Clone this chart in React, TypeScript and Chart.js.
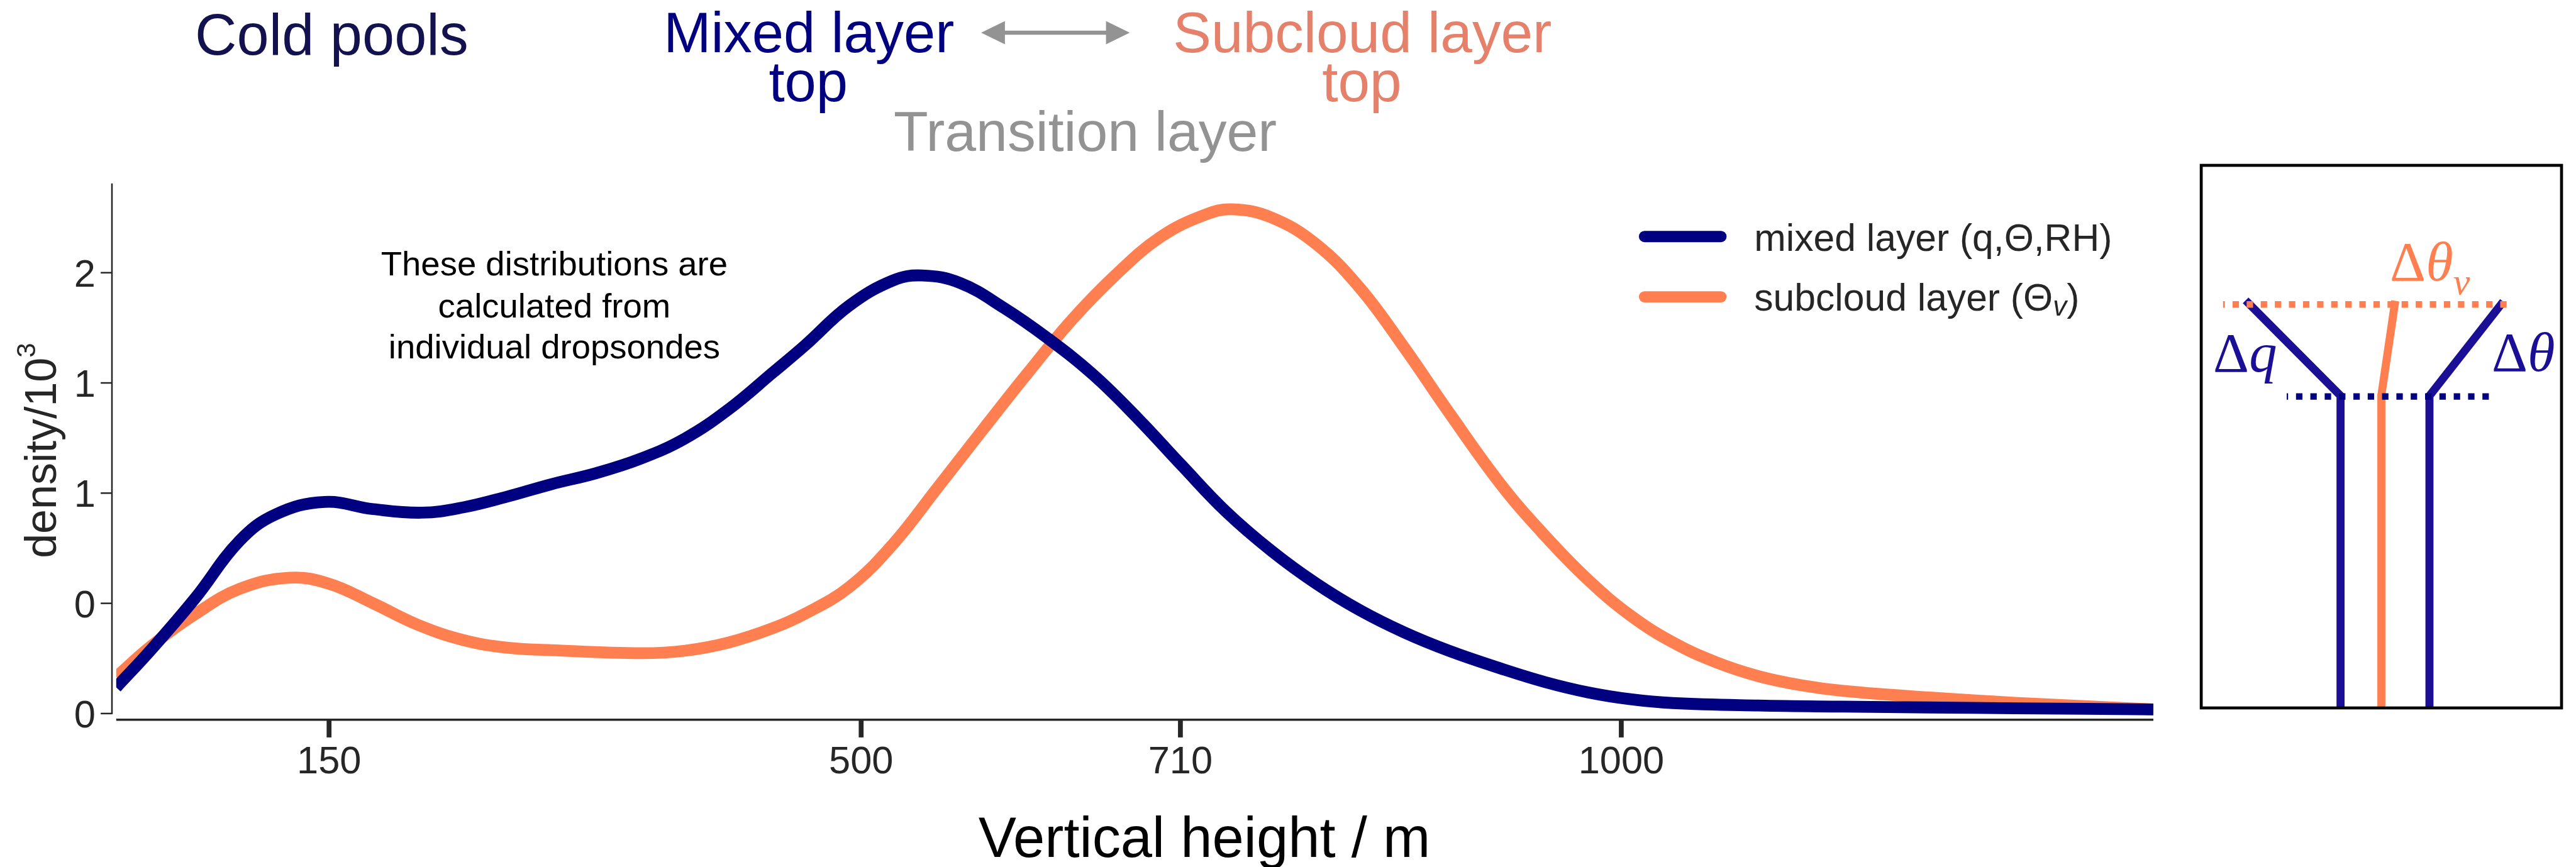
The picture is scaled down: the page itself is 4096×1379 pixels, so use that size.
import { useEffect, useRef } from 'react';
import { Chart, registerables } from 'chart.js';

Chart.register(...registerables);

// Kernel density estimates of layer-top heights (density / 10^3) from dropsondes
const MIXED_HEIGHT = [10, 33, 62, 91, 115, 147, 179, 211, 238, 267, 296, 326, 355, 384, 413, 442, 463, 492, 521, 540, 565, 594, 623, 653, 682, 711, 740, 770, 799, 828, 857, 887, 921, 950, 978, 1006, 1034, 1090, 1146, 1203, 1259, 1350];
const MIXED_DENSITY = [0.095, 0.232, 0.419, 0.626, 0.723, 0.768, 0.742, 0.729, 0.748, 0.787, 0.832, 0.873, 0.925, 0.998, 1.105, 1.238, 1.336, 1.48, 1.572, 1.59, 1.563, 1.472, 1.361, 1.228, 1.071, 0.9, 0.733, 0.59, 0.473, 0.375, 0.295, 0.227, 0.163, 0.114, 0.077, 0.052, 0.038, 0.029, 0.025, 0.022, 0.019, 0.015];

const SUBCLOUD_HEIGHT = [10, 33, 62, 91, 124, 150, 179, 208, 238, 267, 296, 355, 384, 413, 442, 463, 492, 521, 550, 580, 609, 638, 667, 697, 726, 744, 770, 799, 828, 857, 887, 921, 950, 978, 1006, 1034, 1062, 1090, 1118, 1146, 1203, 1259, 1350];
const SUBCLOUD_DENSITY = [0.133, 0.245, 0.361, 0.452, 0.493, 0.471, 0.4, 0.323, 0.267, 0.239, 0.23, 0.219, 0.228, 0.258, 0.31, 0.362, 0.458, 0.615, 0.818, 1.03, 1.232, 1.425, 1.59, 1.73, 1.81, 1.83, 1.8, 1.705, 1.545, 1.33, 1.09, 0.83, 0.644, 0.486, 0.356, 0.258, 0.187, 0.136, 0.103, 0.082, 0.058, 0.039, 0.015];

const SERIES_NAMES = ['mixed layer (q,Θ,RH)', 'subcloud layer (Θv)'];
const X_TICKS = [150, 500, 710, 1000];
const Y_TICKS = [0, 0.4, 0.8, 1.2, 1.6];
const X_TITLE = 'Vertical height / m';
const Y_TITLE = 'density/10';
const Y_TITLE_EXP = '3';
const NOTE_LINES = ['These distributions are', 'calculated from', 'individual dropsondes'];

// page geometry
const W = 4096;
const H = 1379;
const PLOT_LEFT = 184.8;
const PLOT_RIGHT = 3424;
const PLOT_TOP = 291.7;
const PLOT_BOTTOM = 1144.7;

const NAVY = '#000080';
const CORAL = '#ff7f50';
const SALMON = '#e5816a';
const GRAY = '#939393';
const INK = '#262626';
const DEEP_NAVY = '#14114f';
const SCHEM_NAVY = '#1b0f96';

const SANS = '"Liberation Sans", Arial, Helvetica, sans-serif';
const SERIF = '"Liberation Serif", "Times New Roman", serif';

type Piece = { t: string; font: string; dy?: number };

function drawPieces(ctx: CanvasRenderingContext2D, pieces: Piece[], x: number, y: number, color: string) {
  ctx.fillStyle = color;
  ctx.textAlign = 'left';
  ctx.textBaseline = 'alphabetic';
  let cx = x;
  for (const p of pieces) {
    ctx.font = p.font;
    ctx.fillText(p.t, cx, y + (p.dy || 0));
    cx += ctx.measureText(p.t).width;
  }
}

function drawText(ctx: CanvasRenderingContext2D, s: string, x: number, y: number, size: number, color: string, align: CanvasTextAlign = 'left') {
  ctx.font = `${size}px ${SANS}`;
  ctx.fillStyle = color;
  ctx.textAlign = align;
  ctx.textBaseline = 'alphabetic';
  ctx.fillText(s, x, y);
}

function polyline(ctx: CanvasRenderingContext2D, pts: number[][]) {
  ctx.beginPath();
  ctx.moveTo(pts[0][0], pts[0][1]);
  for (let i = 1; i < pts.length; i++) ctx.lineTo(pts[i][0], pts[i][1]);
  ctx.stroke();
}

const decorPlugin = {
  id: 'decor',
  afterDraw(chart: any) {
    const ctx: CanvasRenderingContext2D = chart.ctx;
    const xs = chart.scales.x;
    const ys = chart.scales.y;
    const area = chart.chartArea;
    ctx.save();

    // y axis spine, ticks and labels
    const yAxisX = 178;
    const y0 = ys.getPixelForValue(0);
    ctx.strokeStyle = INK;
    ctx.lineWidth = 2.5;
    ctx.lineCap = 'butt';
    ctx.beginPath();
    ctx.moveTo(yAxisX, y0 + 1.2);
    ctx.lineTo(yAxisX, area.top);
    ctx.stroke();
    for (const t of ys.ticks) {
      const py = ys.getPixelForValue(t.value);
      ctx.beginPath();
      ctx.moveTo(160.1, py);
      ctx.lineTo(yAxisX, py);
      ctx.stroke();
      drawText(ctx, t.value.toFixed(0), 151.8, py + 22, 61.4, INK, 'right');
    }

    // x axis spine, ticks and labels
    ctx.lineWidth = 3.6;
    ctx.beginPath();
    ctx.moveTo(area.left, area.bottom);
    ctx.lineTo(area.right, area.bottom);
    ctx.stroke();
    ctx.fillStyle = INK;
    for (const t of xs.ticks) {
      const px = xs.getPixelForValue(t.value);
      ctx.fillRect(px - 3.85, area.bottom, 7.7, 28.2);
      drawText(ctx, String(t.value), px, 1229.8, 61.4, INK, 'center');
    }

    // axis titles
    drawText(ctx, X_TITLE, 1915, 1363.4, 90.4, '#000', 'center');
    ctx.save();
    ctx.translate(89.2, 716.6);
    ctx.rotate(-Math.PI / 2);
    ctx.font = `70px ${SANS}`;
    const w1 = ctx.measureText(Y_TITLE).width;
    ctx.font = `42px ${SANS}`;
    const w2 = ctx.measureText(Y_TITLE_EXP).width;
    const start = -(w1 + w2) / 2;
    drawPieces(ctx, [
      { t: Y_TITLE, font: `70px ${SANS}` },
      { t: Y_TITLE_EXP, font: `42px ${SANS}`, dy: -33 },
    ], start, 0, INK);
    ctx.restore();

    // headings above the plot
    drawText(ctx, 'Cold pools', 310.1, 86.8, 92, DEEP_NAVY, 'left');
    drawText(ctx, 'Mixed layer', 1286.3, 83.0, 90.4, NAVY, 'center');
    drawText(ctx, 'top', 1285.3, 160.6, 90.4, NAVY, 'center');
    drawText(ctx, 'Subcloud layer', 2166.3, 83.0, 91, SALMON, 'center');
    drawText(ctx, 'top', 2165.4, 160.6, 91, SALMON, 'center');
    drawText(ctx, 'Transition layer', 1725.6, 240.3, 89.6, GRAY, 'center');

    // double-headed arrow between the two layer tops
    const ax0 = 1560.1, ax1 = 1796.4, ay = 52, hl = 37.8, hw = 18.6;
    ctx.strokeStyle = GRAY;
    ctx.fillStyle = GRAY;
    ctx.lineWidth = 6.5;
    ctx.beginPath();
    ctx.moveTo(ax0 + hl - 2, ay);
    ctx.lineTo(ax1 - hl + 2, ay);
    ctx.stroke();
    ctx.beginPath();
    ctx.moveTo(ax0, ay);
    ctx.lineTo(ax0 + hl, ay - hw);
    ctx.lineTo(ax0 + hl, ay + hw);
    ctx.closePath();
    ctx.fill();
    ctx.beginPath();
    ctx.moveTo(ax1, ay);
    ctx.lineTo(ax1 - hl, ay - hw);
    ctx.lineTo(ax1 - hl, ay + hw);
    ctx.closePath();
    ctx.fill();

    // note inside the axes
    const noteBase = [438.2, 505.0, 570.0];
    NOTE_LINES.forEach((s, i) => drawText(ctx, s, 881.4, noteBase[i], 54.5, '#000', 'center'));

    // legend
    const legendRows = [376.2, 472.1];
    const legendBase = [398.5, 493.6];
    const lf = `60.6px ${SANS}`;
    const legendPieces: Piece[][] = [
      [{ t: SERIES_NAMES[0], font: lf }],
      [
        { t: 'subcloud layer (Θ', font: lf },
        { t: 'v', font: `italic 44px ${SANS}`, dy: 8.5 },
        { t: ')', font: lf },
      ],
    ];
    chart.data.datasets.forEach((ds: any, i: number) => {
      ctx.strokeStyle = ds.borderColor;
      ctx.lineWidth = 17.9;
      ctx.lineCap = 'round';
      ctx.beginPath();
      ctx.moveTo(2614.9, legendRows[i]);
      ctx.lineTo(2736.4, legendRows[i]);
      ctx.stroke();
      drawPieces(ctx, legendPieces[i], 2789.3, legendBase[i], INK);
    });
    ctx.lineCap = 'butt';

    // schematic of the profiles at the layer tops
    const BX0 = 3500.1, BX1 = 4073, BY0 = 263, BY1 = 1126;
    ctx.lineWidth = 12.8;
    ctx.lineJoin = 'miter';
    ctx.strokeStyle = SCHEM_NAVY;
    polyline(ctx, [[3570.7, 477.7], [3721.6, 629.5], [3721.6, BY1]]);
    polyline(ctx, [[3980.3, 479.7], [3863, 629.5], [3863, BY1]]);
    ctx.strokeStyle = CORAL;
    polyline(ctx, [[3808.6, 478.5], [3786.5, 628.7], [3786.5, BY1]]);

    ctx.setLineDash([10.2, 12.2]);
    ctx.lineDashOffset = 7.3;
    ctx.lineWidth = 10.5;
    ctx.strokeStyle = CORAL;
    polyline(ctx, [[3534.8, 484.3], [3992, 484.3]]);
    ctx.setLineDash([10.2, 12.6]);
    ctx.lineDashOffset = 8;
    ctx.lineWidth = 10.2;
    ctx.strokeStyle = NAVY;
    polyline(ctx, [[3636, 630.6], [3957.9, 630.6]]);
    ctx.setLineDash([]);

    ctx.lineWidth = 4.7;
    ctx.strokeStyle = '#000';
    ctx.strokeRect(BX0, BY0, BX1 - BX0, BY1 - BY0);

    const sf = `88.7px ${SERIF}`;
    const sfi = `italic 88.7px ${SERIF}`;
    drawPieces(ctx, [{ t: 'Δ', font: sf }, { t: 'q', font: sfi }], 3519.1, 591.4, SCHEM_NAVY);
    drawPieces(ctx, [{ t: 'Δ', font: sf }, { t: 'θ', font: sfi }], 3961.9, 589.6, SCHEM_NAVY);
    drawPieces(ctx, [
      { t: 'Δ', font: sf },
      { t: 'θ', font: sfi },
      { t: 'v', font: `italic 60px ${SERIF}`, dy: 22.4 },
    ], 3800.1, 445.6, CORAL);

    ctx.restore();
  },
};

export default function App() {
  const ref = useRef<HTMLCanvasElement>(null);

  useEffect(() => {
    document.body.style.margin = '0';
    const canvas = ref.current;
    if (!canvas) return;
    const line = {
      borderWidth: 18.8,
      pointRadius: 0,
      pointHoverRadius: 0,
      fill: false,
      tension: 0.4,
      borderCapStyle: 'butt' as const,
      borderJoinStyle: 'round' as const,
    };
    const chart = new Chart(canvas, {
      type: 'line',
      data: {
        datasets: [
          {
            label: SERIES_NAMES[0],
            data: MIXED_HEIGHT.map((h, i) => ({ x: h, y: MIXED_DENSITY[i] })),
            borderColor: NAVY,
            ...line,
          },
          {
            label: SERIES_NAMES[1],
            data: SUBCLOUD_HEIGHT.map((h, i) => ({ x: h, y: SUBCLOUD_DENSITY[i] })),
            borderColor: CORAL,
            ...line,
          },
        ],
      },
      options: {
        animation: false,
        responsive: false,
        devicePixelRatio: 1,
        events: [],
        layout: { padding: { left: 0, top: PLOT_TOP, right: W - PLOT_RIGHT, bottom: 0 } },
        plugins: {
          legend: { display: false },
          tooltip: { enabled: false },
          title: { display: false },
        },
        scales: {
          x: {
            type: 'linear',
            min: 10,
            max: 1350,
            grid: { display: false, drawTicks: false },
            border: { display: false },
            ticks: { display: false },
            afterBuildTicks: (s: any) => {
              s.ticks = X_TICKS.map((value) => ({ value }));
            },
            afterFit: (s: any) => {
              s.height = H - PLOT_BOTTOM;
            },
          },
          y: {
            type: 'linear',
            min: -0.02236,
            max: 1.9242,
            grid: { display: false, drawTicks: false },
            border: { display: false },
            ticks: { display: false },
            afterBuildTicks: (s: any) => {
              s.ticks = Y_TICKS.map((value) => ({ value }));
            },
            afterFit: (s: any) => {
              s.width = PLOT_LEFT;
            },
          },
        },
      },
      plugins: [decorPlugin],
    });
    return () => chart.destroy();
  }, []);

  return (
    <div style={{ position: 'fixed', left: 0, top: 0, width: W, height: H, background: '#fff' }}>
      <canvas ref={ref} width={W} height={H} style={{ width: W, height: H, display: 'block' }} />
    </div>
  );
}
